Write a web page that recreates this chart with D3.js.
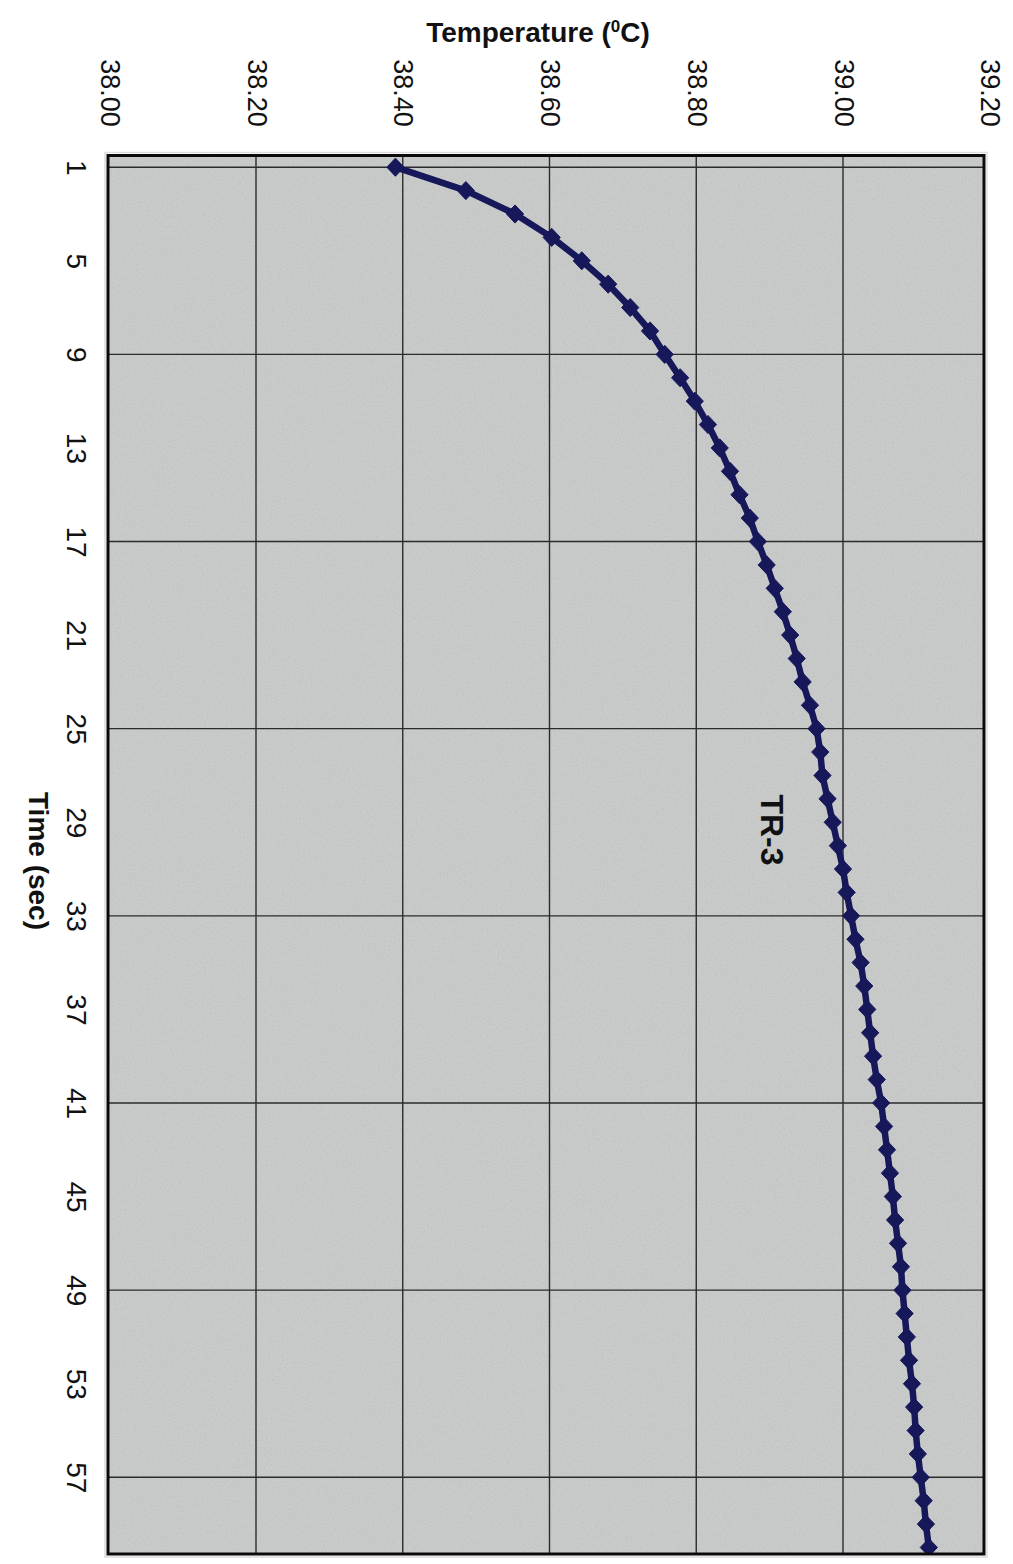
<!DOCTYPE html>
<html>
<head>
<meta charset="utf-8">
<script src="https://cdn.jsdelivr.net/npm/d3@7"></script>
<style>
  html, body { margin: 0; padding: 0; background: #ffffff; }
  svg { display: block; }
  text { font-family: "Liberation Sans", Arial, Helvetica, sans-serif; fill: #111; }
</style>
</head>
<body>
<svg id="chart" width="1013" height="1564"></svg>
<script>
// ---- data ----
const times = [1,2,3,4,5,6,7,8,9,10,11,12,13,14,15,16,17,18,19,20,
               21,22,23,24,25,26,27,28,29,30,31,32,33,34,35,36,37,38,39,40,
               41,42,43,44,45,46,47,48,49,50,51,52,53,54,55,56,57,58,59,60];
const temps = [38.390,38.486,38.553,38.603,38.644,38.680,38.710,38.737,38.757,38.778,
               38.798,38.816,38.832,38.846,38.859,38.873,38.884,38.896,38.907,38.918,
               38.928,38.937,38.945,38.955,38.964,38.969,38.972,38.979,38.986,38.993,
               39.000,39.005,39.011,39.017,39.024,39.029,39.033,39.037,39.041,39.046,
               39.052,39.056,39.060,39.064,39.068,39.071,39.075,39.079,39.081,39.084,
               39.087,39.090,39.094,39.097,39.099,39.102,39.106,39.110,39.113,39.117];
const tempTicks = [38.00, 38.20, 38.40, 38.60, 38.80, 39.00, 39.20];
const tempGrid = [38.20, 38.40, 38.60, 38.80, 39.00];
const timeTicks = [1,5,9,13,17,21,25,29,33,37,41,45,49,53,57];
const timeGrid = [1,9,17,25,33,41,49,57];
const seriesName = "TR-3";
const xTitle = "Time (sec)";

// ---- layout ----
const frame = {left: 108, right: 984, top: 155.5, bottom: 1554};
const svg = d3.select("#chart");

const x = d3.scaleLinear().domain([38, 39.2]).range([109.25, 989.75]);
const y = d3.scaleLinear().domain([0.5, 60.3]).range([155.5, 1554.5]);

const defs = svg.append("defs");
const filt = defs.append("filter").attr("id", "noise")
  .attr("x", 0).attr("y", 0).attr("width", "100%").attr("height", "100%");
filt.append("feTurbulence").attr("type", "fractalNoise")
  .attr("baseFrequency", "0.55").attr("numOctaves", 2).attr("seed", 7);
filt.append("feColorMatrix").attr("type", "matrix")
  .attr("values", "0.33 0.33 0.33 0 0  0.33 0.33 0.33 0 0  0.33 0.33 0.33 0 0  0 0 0 0 1");
defs.append("clipPath").attr("id", "plotclip").append("rect")
  .attr("x", frame.left).attr("y", frame.top)
  .attr("width", frame.right - frame.left).attr("height", frame.bottom - frame.top);

// outer faint shadow border
svg.append("rect")
  .attr("x", frame.left - 3).attr("y", frame.top - 3)
  .attr("width", frame.right - frame.left + 6).attr("height", frame.bottom - frame.top + 6)
  .attr("fill", "none").attr("stroke", "#dcdcdc").attr("stroke-width", 1.5);

// plot background
svg.append("rect")
  .attr("x", frame.left).attr("y", frame.top)
  .attr("width", frame.right - frame.left).attr("height", frame.bottom - frame.top)
  .attr("fill", "#cacccc");
svg.append("rect")
  .attr("x", frame.left).attr("y", frame.top)
  .attr("width", frame.right - frame.left).attr("height", frame.bottom - frame.top)
  .attr("filter", "url(#noise)").attr("opacity", 0.15);

const plot = svg.append("g").attr("clip-path", "url(#plotclip)");

// gridlines
plot.selectAll("line.vgrid").data(tempGrid).join("line")
  .attr("class", "vgrid")
  .attr("x1", d => x(d)).attr("x2", d => x(d))
  .attr("y1", frame.top).attr("y2", frame.bottom)
  .attr("stroke", "#2b2b2b").attr("stroke-width", 1.4);
plot.selectAll("line.hgrid").data(timeGrid).join("line")
  .attr("class", "hgrid")
  .attr("y1", d => y(d)).attr("y2", d => y(d))
  .attr("x1", frame.left).attr("x2", frame.right)
  .attr("stroke", "#2b2b2b").attr("stroke-width", 1.4);

// series
const pts = times.map((t, i) => ({t: t, v: temps[i]}));
const line = d3.line().x(d => x(d.v)).y(d => y(d.t));
const navy = "#17185a";
plot.append("path").datum(pts)
  .attr("d", line).attr("fill", "none")
  .attr("stroke", navy).attr("stroke-width", 6.5).attr("stroke-linejoin", "round");
const sym = d3.symbol().type(d3.symbolDiamond2).size(210);
plot.selectAll("path.mk").data(pts).join("path")
  .attr("class", "mk")
  .attr("d", sym)
  .attr("transform", d => `translate(${x(d.v)},${y(d.t)}) scale(0.95,1)`)
  .attr("fill", navy).attr("stroke", navy).attr("stroke-width", 1);

// frame
svg.append("rect")
  .attr("x", frame.left).attr("y", frame.top)
  .attr("width", frame.right - frame.left).attr("height", frame.bottom - frame.top)
  .attr("fill", "none").attr("stroke", "#0a0a0a").attr("stroke-width", 3);

// temperature axis (top), labels rotated
const topAxis = d3.axisTop(x).tickValues(tempTicks).tickFormat(d3.format(".2f")).tickSize(0);
const gTop = svg.append("g").attr("transform", "translate(0,0)").call(topAxis);
gTop.select(".domain").remove();
gTop.selectAll("text")
  .attr("x", 0).attr("y", 0).attr("dy", null)
  .attr("transform", "translate(0,93) rotate(90)")
  .attr("text-anchor", "middle").attr("dominant-baseline", "central")
  .style("font-size", "27px").style("font-family", "'Liberation Sans', Arial, sans-serif")
  .attr("fill", "#111");

// time axis (left), labels rotated
const leftAxis = d3.axisLeft(y).tickValues(timeTicks).tickFormat(d3.format("d")).tickSize(0);
const gLeft = svg.append("g").attr("transform", "translate(76,0)").call(leftAxis);
gLeft.select(".domain").remove();
gLeft.selectAll("text")
  .attr("x", 0).attr("y", 0).attr("dy", null)
  .attr("transform", "rotate(90)")
  .attr("text-anchor", "middle").attr("dominant-baseline", "central")
  .style("font-size", "28px").style("font-family", "'Liberation Sans', Arial, sans-serif")
  .attr("fill", "#111");

// titles
const tt = svg.append("text")
  .attr("x", 538).attr("y", 42).attr("text-anchor", "middle")
  .style("font-size", "28px").style("font-weight", "bold");
tt.append("tspan").text("Temperature (");
tt.append("tspan").attr("dy", -10).style("font-size", "17px").text("0");
tt.append("tspan").attr("dy", 10).text("C)");

svg.append("text")
  .attr("transform", "translate(38,861) rotate(90)")
  .attr("text-anchor", "middle").attr("dominant-baseline", "central")
  .style("font-size", "28px").style("font-weight", "bold")
  .text(xTitle);

svg.append("text")
  .attr("transform", "translate(772,830) rotate(90)")
  .attr("text-anchor", "middle").attr("dominant-baseline", "central")
  .style("font-size", "32px").style("font-weight", "bold")
  .text(seriesName);
</script>
</body>
</html>
